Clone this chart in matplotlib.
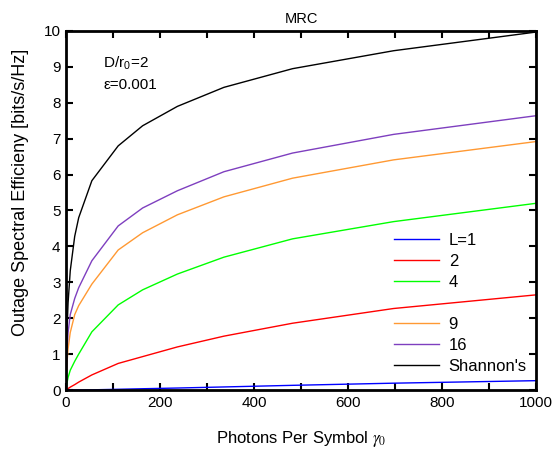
import matplotlib
matplotlib.use('Agg')
import matplotlib.pyplot as plt
from matplotlib.lines import Line2D

plt.rcParams['font.family'] = ['Liberation Sans', 'DejaVu Sans']
plt.rcParams['mathtext.fontset'] = 'stix'

# photons per symbol (x) and outage spectral efficiency per curve
gamma = [0, 1, 2.1, 4.4, 9, 18.5, 27, 55, 111, 163, 237, 336, 482, 697, 1000]
eff_L1 = [0, 0, 0, 0, 0, 0.001, 0.002, 0.005, 0.02, 0.035, 0.055, 0.085, 0.13, 0.19, 0.26]
eff_L2 = [0, 0.01, 0.02, 0.04, 0.08, 0.15, 0.22, 0.42, 0.74, 0.93, 1.2, 1.5, 1.86, 2.27, 2.65]
eff_L4 = [0, 0.1, 0.2, 0.35, 0.55, 0.8, 1.0, 1.62, 2.37, 2.79, 3.23, 3.7, 4.21, 4.69, 5.2]
eff_L9 = [0, 0.45, 0.75, 1.15, 1.6, 2.1, 2.35, 2.95, 3.9, 4.38, 4.88, 5.38, 5.9, 6.41, 6.92]
eff_L16 = [0, 0.7, 1.1, 1.6, 2.1, 2.55, 2.85, 3.6, 4.57, 5.07, 5.55, 6.08, 6.6, 7.12, 7.64]
eff_shannon = [0, 1.0, 1.64, 2.43, 3.32, 4.28, 4.8, 5.83, 6.8, 7.36, 7.9, 8.43, 8.95, 9.45, 9.97]

fig = plt.figure(figsize=(5.58, 4.49), dpi=100)
ax = fig.add_axes([0.1183, 0.1314, 0.8423, 0.7996])

l1, = ax.plot(gamma, eff_L1, color='#0000ff', lw=1)
l2, = ax.plot(gamma, eff_L2, color='#ff0000', lw=1)
l4, = ax.plot(gamma, eff_L4, color='#00ff00', lw=1)
l9, = ax.plot(gamma, eff_L9, color='#ff9933', lw=1)
l16, = ax.plot(gamma, eff_L16, color='#7e3fbf', lw=1)
ls, = ax.plot(gamma, eff_shannon, color='black', lw=1)
blank = Line2D([], [], color='none')

ax.set_xlim(0, 1000)
ax.set_ylim(0, 10)
xt = list(range(0, 1001, 100))
ax.set_xticks(xt)
ax.set_xticklabels([str(v) if v % 200 == 0 else '' for v in xt])
ax.set_yticks(range(0, 11))
ax.tick_params(direction='in', top=True, right=True, length=5, width=1.5, labelsize=11, pad=4)
for s in ax.spines.values():
    s.set_linewidth(2)

ax.set_title('MRC', fontsize=10.5, pad=6)
ax.set_xlabel(r'Photons Per Symbol $\gamma_0$', fontsize=12, labelpad=14)
ax.set_ylabel('Outage Spectral Efficieny [bits/s/Hz]', fontsize=13)
ax.yaxis.set_label_coords(-0.078, 0.55)

ax.text(79, 9.1, r'D/r$_\mathregular{0}$=2', fontsize=11, va='center')
ax.text(79, 8.5, 'ε=0.001', fontsize=11, va='center')

ax.legend([l1, l2, l4, blank, l9, l16, ls], ['L=1', '2', '4', ' ', '9', '16', "Shannon's"],
          loc='upper left', bbox_to_anchor=(0.683, 0.455), frameon=False, fontsize=12,
          handlelength=2.7, handletextpad=0.6, labelspacing=0.36, borderaxespad=0)

fig.savefig('out.png', dpi=100)
